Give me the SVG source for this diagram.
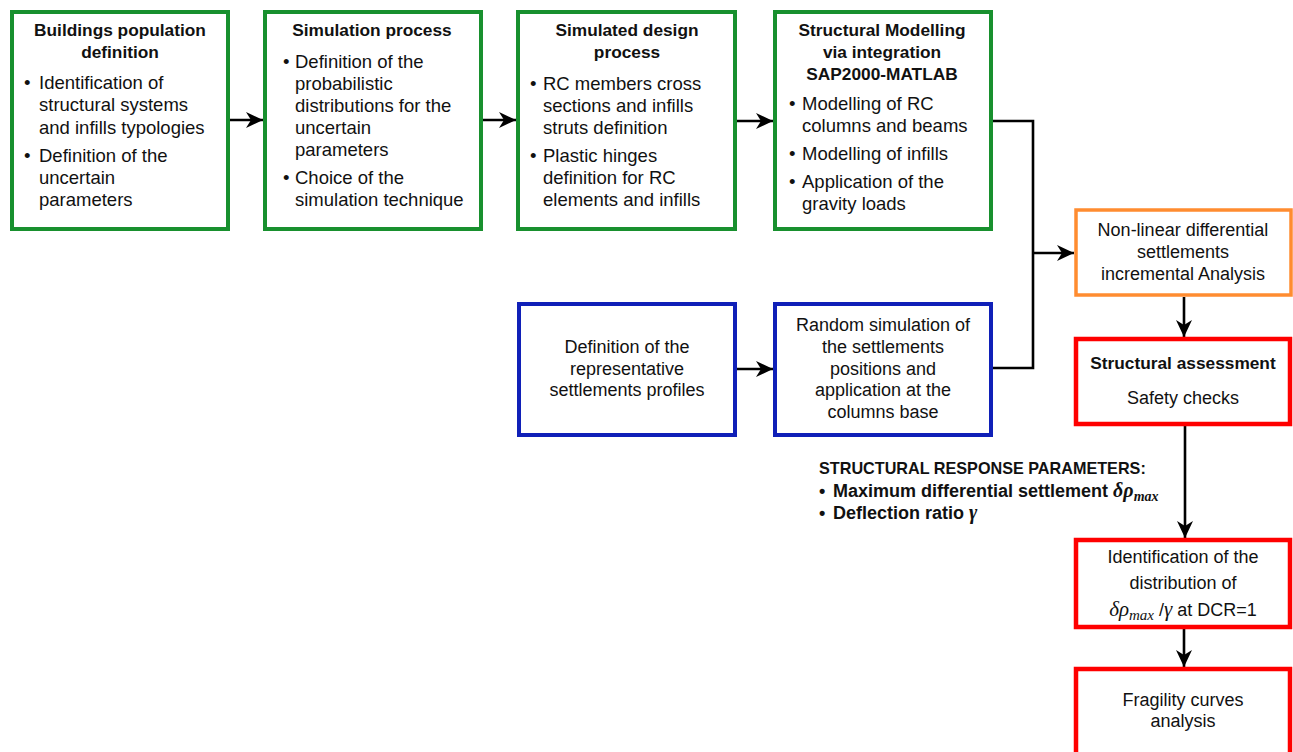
<svg xmlns="http://www.w3.org/2000/svg" width="1293" height="752" viewBox="0 0 1293 752">
<style>
text{font-family:"Liberation Sans",Arial,sans-serif;fill:#111;}
.t{font-size:17.3px;font-weight:bold;text-anchor:middle;}
.b{font-size:18.5px;}
.c{font-size:18px;text-anchor:middle;}
.g{fill:#fff;stroke:#18902e;stroke-width:4;}
.bl{fill:#fff;stroke:#1020b8;stroke-width:4;}
.o{fill:#fff;stroke:#ff8c30;stroke-width:3.5;}
.r{fill:#fff;stroke:#ff0000;stroke-width:4.5;}
.m{font-family:"Liberation Serif","Times New Roman",serif;font-style:italic;}
.ln{fill:none;stroke:#000;stroke-width:2.6;}
</style>
<defs>
<marker id="ah" markerUnits="userSpaceOnUse" markerWidth="18" markerHeight="16" refX="17" refY="8" orient="auto">
<path d="M0,0 L17,8 L0,16 L5,8 z" fill="#000"/>
</marker>
</defs>
<rect width="1293" height="752" fill="#fff"/>

<g id="connectors">
<path class="ln" d="M230,120 H263" marker-end="url(#ah)"/>
<path class="ln" d="M483,120 H516" marker-end="url(#ah)"/>
<path class="ln" d="M737,121 H773" marker-end="url(#ah)"/>
<path class="ln" d="M993,121 H1033 V368 H993"/>
<path class="ln" d="M1033,253 H1074" marker-end="url(#ah)"/>
<path class="ln" d="M737,369 H773" marker-end="url(#ah)"/>
<path class="ln" d="M1184,297 V337" marker-end="url(#ah)"/>
<path class="ln" d="M1185,426 V538" marker-end="url(#ah)"/>
<path class="ln" d="M1184,629 V667" marker-end="url(#ah)"/>
</g>

<g id="n1">
<rect class="g" x="12" y="12" width="216" height="217"/>
<text class="t" x="120" y="36">Buildings population</text>
<text class="t" x="120" y="58">definition</text>
<text class="b" x="24" y="89">•</text>
<text class="b" x="39" y="89">Identification of</text>
<text class="b" x="39" y="111">structural systems</text>
<text class="b" x="39" y="134">and infills typologies</text>
<text class="b" x="24" y="162">•</text>
<text class="b" x="39" y="162">Definition of the</text>
<text class="b" x="39" y="184">uncertain</text>
<text class="b" x="39" y="206">parameters</text>
</g>

<g id="n2">
<rect class="g" x="265" y="12" width="216" height="217"/>
<text class="t" x="372" y="36">Simulation process</text>
<text class="b" x="283" y="68">•</text>
<text class="b" x="295" y="68">Definition of the</text>
<text class="b" x="295" y="90">probabilistic</text>
<text class="b" x="295" y="112">distributions for the</text>
<text class="b" x="295" y="134">uncertain</text>
<text class="b" x="295" y="156">parameters</text>
<text class="b" x="283" y="184">•</text>
<text class="b" x="295" y="184">Choice of the</text>
<text class="b" x="295" y="206">simulation technique</text>
</g>

<g id="n3">
<rect class="g" x="518" y="12" width="217" height="217"/>
<text class="t" x="627" y="36">Simulated design</text>
<text class="t" x="627" y="58">process</text>
<text class="b" x="530" y="90">•</text>
<text class="b" x="543" y="90">RC members cross</text>
<text class="b" x="543" y="112">sections and infills</text>
<text class="b" x="543" y="134">struts definition</text>
<text class="b" x="530" y="162">•</text>
<text class="b" x="543" y="162">Plastic hinges</text>
<text class="b" x="543" y="184">definition for RC</text>
<text class="b" x="543" y="206">elements and infills</text>
</g>

<g id="n4">
<rect class="g" x="775" y="12" width="216" height="217"/>
<text class="t" x="882" y="36">Structural Modelling</text>
<text class="t" x="882" y="58">via integration</text>
<text class="t" x="882" y="80">SAP2000-MATLAB</text>
<text class="b" x="789" y="110">•</text>
<text class="b" x="802" y="110">Modelling of RC</text>
<text class="b" x="802" y="132">columns and beams</text>
<text class="b" x="789" y="160">•</text>
<text class="b" x="802" y="160">Modelling of infills</text>
<text class="b" x="789" y="188">•</text>
<text class="b" x="802" y="188">Application of the</text>
<text class="b" x="802" y="210">gravity loads</text>
</g>

<g id="n5">
<rect class="bl" x="519" y="304" width="216" height="131"/>
<text class="c" x="627" y="353">Definition of the</text>
<text class="c" x="627" y="375">representative</text>
<text class="c" x="627" y="396">settlements profiles</text>
</g>

<g id="n6">
<rect class="bl" x="775" y="304" width="216" height="131"/>
<text class="c" x="883" y="331">Random simulation of</text>
<text class="c" x="883" y="353">the settlements</text>
<text class="c" x="883" y="375">positions and</text>
<text class="c" x="883" y="396">application at the</text>
<text class="c" x="883" y="418">columns base</text>
</g>

<g id="n7">
<rect class="o" x="1076" y="210" width="215" height="85"/>
<text class="c" x="1183" y="236">Non-linear differential</text>
<text class="c" x="1183" y="258">settlements</text>
<text class="c" x="1183" y="280">incremental Analysis</text>
</g>

<g id="n8">
<rect class="r" x="1076" y="339" width="214" height="85"/>
<text class="t" x="1183" y="369">Structural assessment</text>
<text class="c" x="1183" y="404">Safety checks</text>
</g>

<g id="n9">
<rect class="r" x="1076" y="540" width="214" height="87"/>
<text class="c" x="1183" y="563">Identification of the</text>
<text class="c" x="1183" y="589">distribution of</text>
<text class="c" x="1183" y="616"><tspan class="m" font-size="21">δρ</tspan><tspan class="m" font-size="15" dy="4">max</tspan><tspan dy="-4"> /</tspan><tspan class="m" font-size="21">γ</tspan> at DCR=1</text>
</g>

<g id="n10">
<rect class="r" x="1076" y="669" width="214" height="100"/>
<text class="c" x="1183" y="706">Fragility curves</text>
<text class="c" x="1183" y="727">analysis</text>
</g>

<g id="params">
<text x="819" y="474" font-size="16.2" font-weight="bold">STRUCTURAL RESPONSE PARAMETERS:</text>
<text x="819" y="497" font-size="18" font-weight="bold">•</text>
<text x="833" y="497" font-size="18" font-weight="bold">Maximum differential settlement <tspan class="m" font-size="20">δρ</tspan><tspan class="m" font-size="14" dy="4">max</tspan></text>
<text x="819" y="519" font-size="18" font-weight="bold">•</text>
<text x="833" y="519" font-size="18" font-weight="bold">Deflection ratio <tspan class="m" font-size="20">γ</tspan></text>
</g>
</svg>
